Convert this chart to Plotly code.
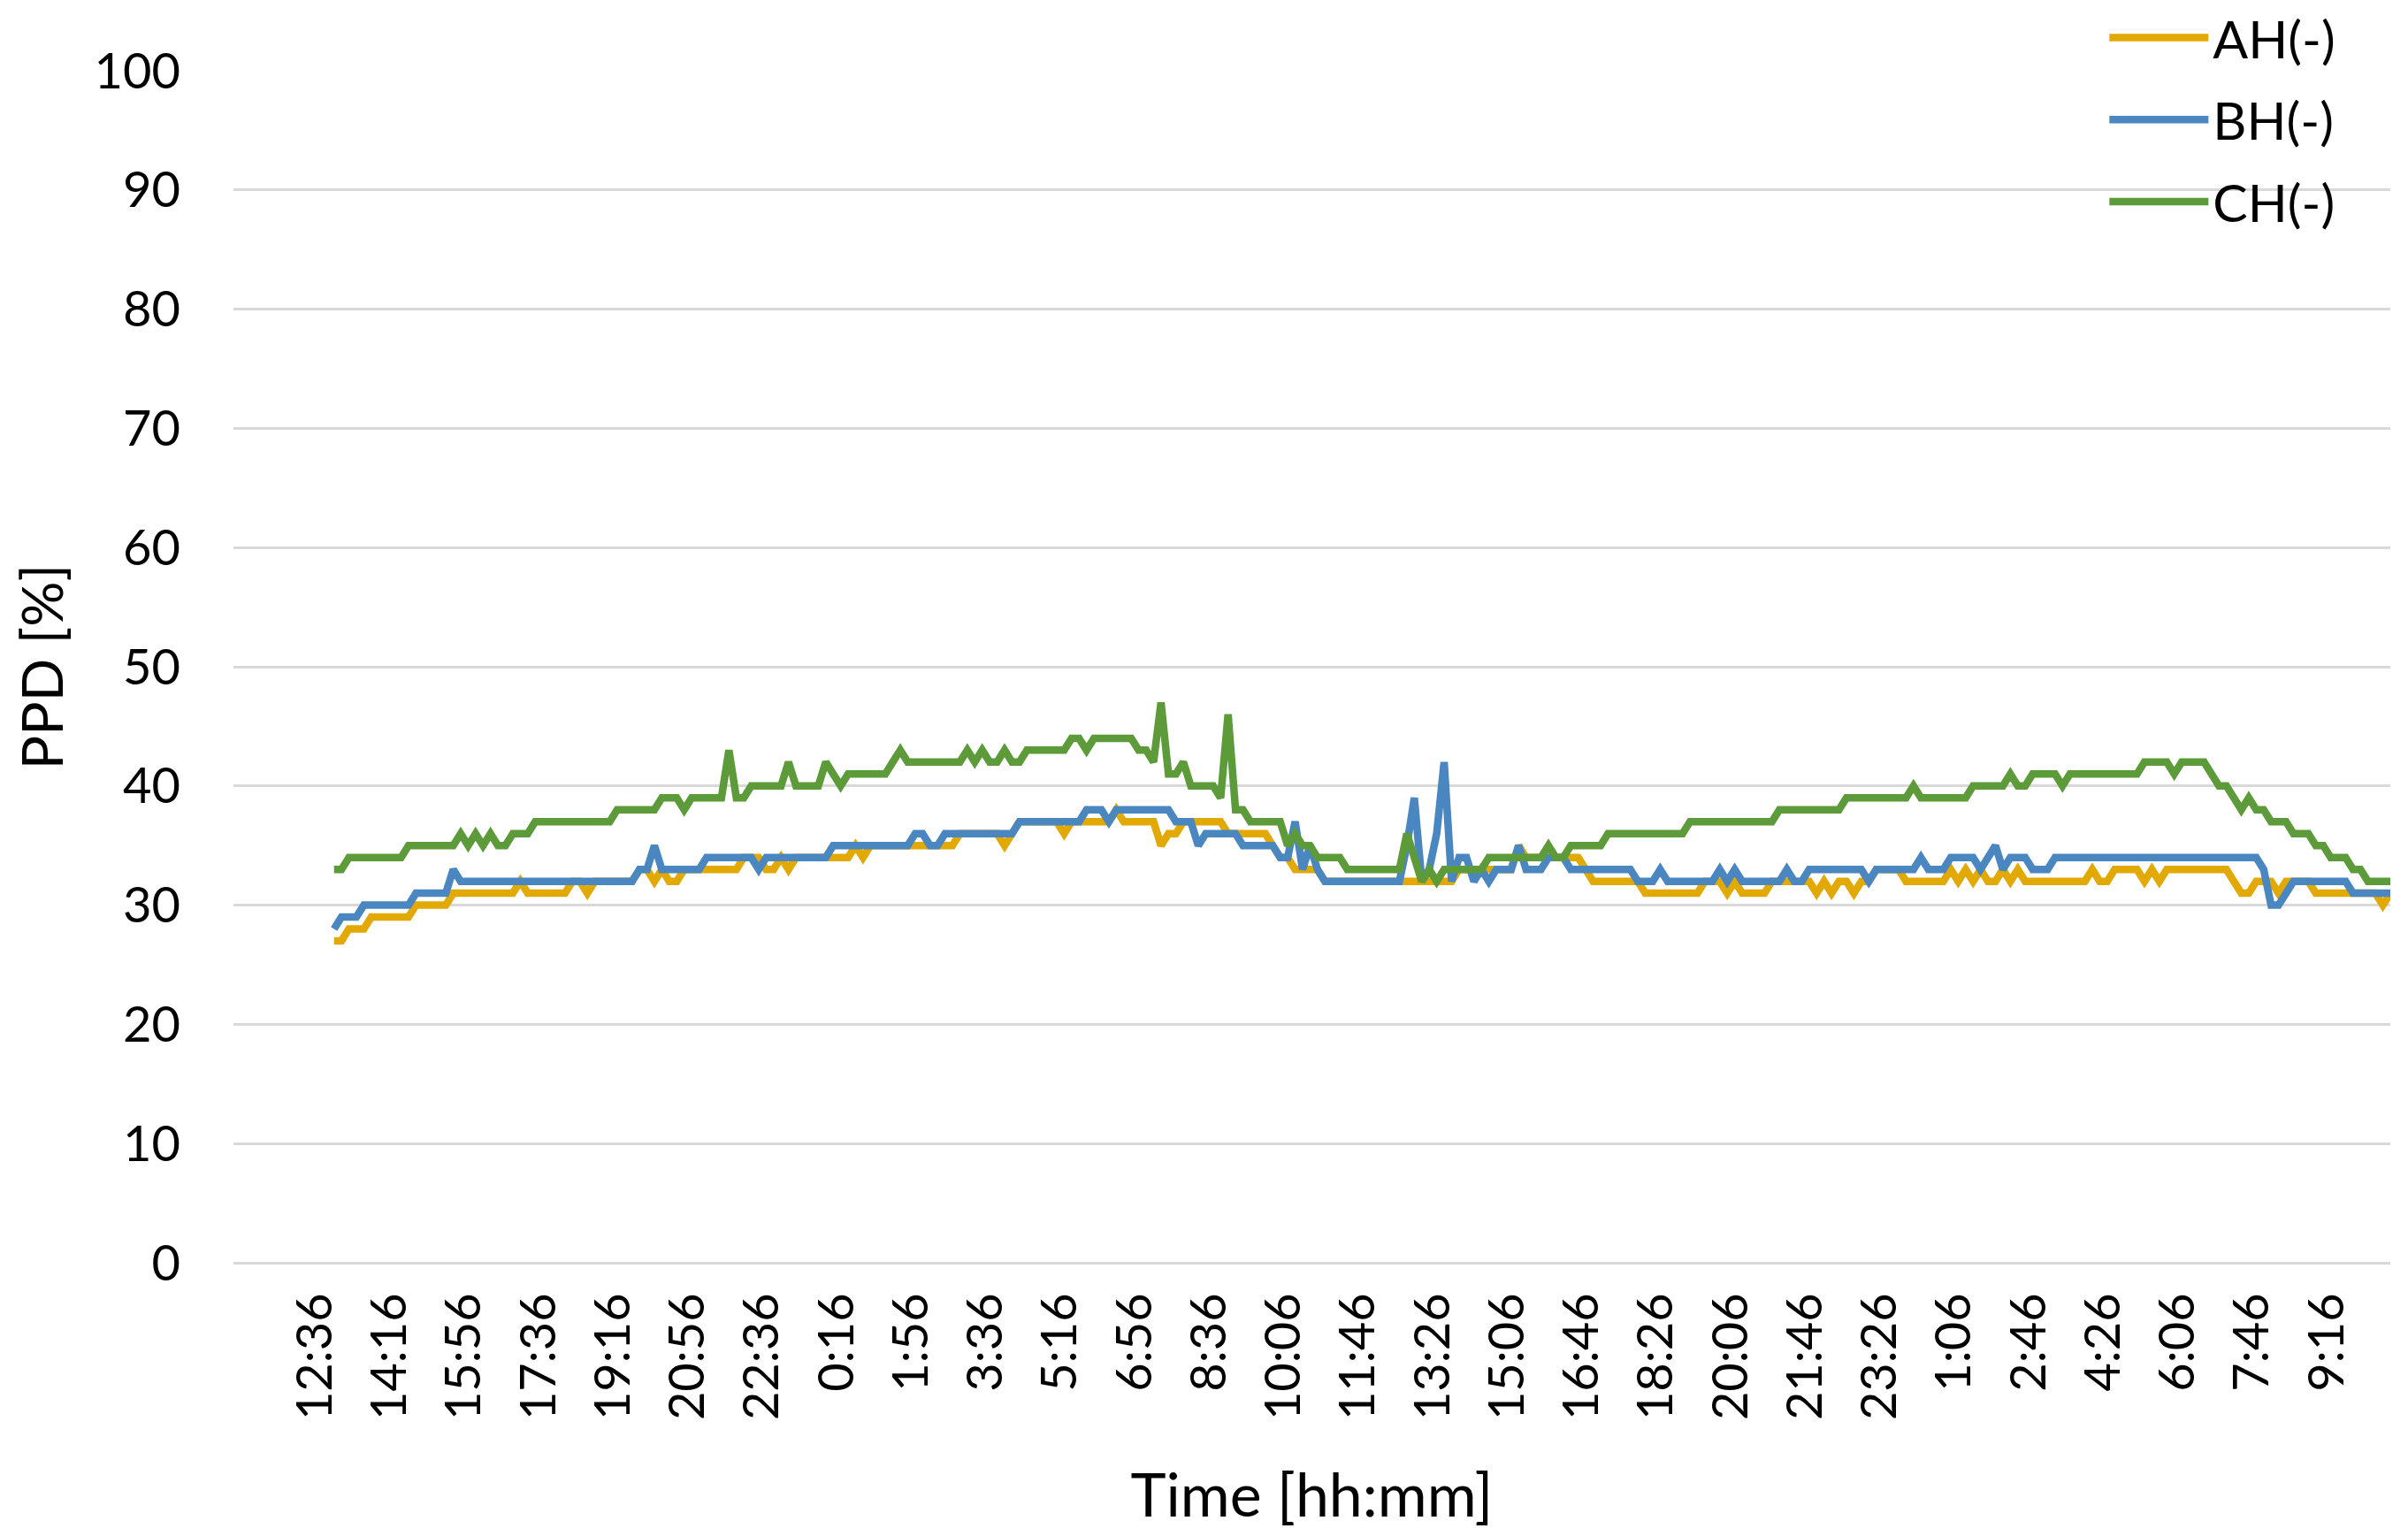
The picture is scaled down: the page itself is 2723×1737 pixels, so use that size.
import plotly.graph_objects as go

# ---- data (PPD %, one value per 10-minute sample) ----
AH = [27,27,28,28,28,29,29,29,29,29,
      29,30,30,30,30,30,31,31,31,31,
      31,31,31,31,31,32,31,31,31,31,
      31,31,32,32,31,32,32,32,32,32,
      32,33,33,32,33,32,32,33,33,33,
      33,33,33,33,33,34,34,34,33,33,
      34,33,34,34,34,34,34,34,34,34,
      35,34,35,35,35,35,35,35,35,35,
      35,35,35,35,36,36,36,36,36,36,
      35,36,37,37,37,37,37,37,36,37,
      37,37,37,37,37,38,37,37,37,37,
      37,35,36,36,37,37,37,37,37,37,
      36,36,36,36,36,36,35,34,34,33,
      33,33,33,32,32,32,32,32,32,32,
      32,32,32,32,32,32,32,32,32,32,
      32,33,33,33,33,33,33,33,33,35,
      34,34,34,34,34,34,34,34,33,32,
      32,32,32,32,32,32,31,31,31,31,
      31,31,31,31,32,32,32,31,32,31,
      31,31,31,32,32,32,32,32,32,31,
      32,31,32,32,31,32,32,33,33,33,
      33,32,32,32,32,32,32,33,32,33,
      32,33,32,32,33,32,33,32,32,32,
      32,32,32,32,32,32,33,32,32,33,
      33,33,33,32,33,32,33,33,33,33,
      33,33,33,33,33,32,31,31,32,32,
      32,31,32,32,32,32,31,31,31,31,
      31,31,31,31,31,30,31]

BH = [28,29,29,29,30,30,30,30,30,30,
      30,31,31,31,31,31,33,32,32,32,
      32,32,32,32,32,32,32,32,32,32,
      32,32,32,32,32,32,32,32,32,32,
      32,33,33,35,33,33,33,33,33,33,
      34,34,34,34,34,34,34,33,34,34,
      34,34,34,34,34,34,34,35,35,35,
      35,35,35,35,35,35,35,35,36,36,
      35,35,36,36,36,36,36,36,36,36,
      36,36,37,37,37,37,37,37,37,37,
      37,38,38,38,37,38,38,38,38,38,
      38,38,38,37,37,37,35,36,36,36,
      36,36,35,35,35,35,35,34,34,37,
      33,35,33,32,32,32,32,32,32,32,
      32,32,32,32,35,39,32,33,36,42,
      32,34,34,32,33,32,33,33,33,35,
      33,33,33,34,34,34,33,33,33,33,
      33,33,33,33,33,32,32,32,33,32,
      32,32,32,32,32,32,33,32,33,32,
      32,32,32,32,32,33,32,32,33,33,
      33,33,33,33,33,33,32,33,33,33,
      33,33,33,34,33,33,33,34,34,34,
      34,33,34,35,33,34,34,34,33,33,
      33,34,34,34,34,34,34,34,34,34,
      34,34,34,34,34,34,34,34,34,34,
      34,34,34,34,34,34,34,34,34,33,
      30,30,31,32,32,32,32,32,32,32,
      32,31,31,31,31,31,31]

CH = [33,33,34,34,34,34,34,34,34,34,
      35,35,35,35,35,35,35,36,35,36,
      35,36,35,35,36,36,36,37,37,37,
      37,37,37,37,37,37,37,37,38,38,
      38,38,38,38,39,39,39,38,39,39,
      39,39,39,43,39,39,40,40,40,40,
      40,42,40,40,40,40,42,41,40,41,
      41,41,41,41,41,42,43,42,42,42,
      42,42,42,42,42,43,42,43,42,42,
      43,42,42,43,43,43,43,43,43,44,
      44,43,44,44,44,44,44,44,43,43,
      42,47,41,41,42,40,40,40,40,39,
      46,38,38,37,37,37,37,37,35,36,
      35,35,34,34,34,34,33,33,33,33,
      33,33,33,33,36,34,32,33,32,33,
      33,33,33,33,33,34,34,34,34,34,
      34,34,34,35,34,34,35,35,35,35,
      35,36,36,36,36,36,36,36,36,36,
      36,36,37,37,37,37,37,37,37,37,
      37,37,37,37,38,38,38,38,38,38,
      38,38,38,39,39,39,39,39,39,39,
      39,39,40,39,39,39,39,39,39,39,
      40,40,40,40,40,41,40,40,41,41,
      41,41,40,41,41,41,41,41,41,41,
      41,41,41,42,42,42,42,41,42,42,
      42,42,41,40,40,39,38,39,38,38,
      37,37,37,36,36,36,35,35,34,34,
      34,33,33,32,32,32,32]

TICK_LABELS = ["12:36", "14:16", "15:56", "17:36", "19:16", "20:56", "22:36",
               "0:16", "1:56", "3:36", "5:16", "6:56", "8:36", "10:06",
               "11:46", "13:26", "15:06", "16:46", "18:26", "20:06", "21:46",
               "23:26", "1:06", "2:46", "4:26", "6:06", "7:46", "9:16"]
LABEL_STEP = 10

assert len(AH) == len(BH) == len(CH)
n = len(AH)
idx = list(range(n))
tickvals = [k * LABEL_STEP for k in range(len(TICK_LABELS))]

FONT = "Lato"
series = [("AH(-)", AH, "#E3A903"), ("BH(-)", BH, "#4A86C0"), ("CH(-)", CH, "#5C9A3A")]

fig = go.Figure()
for name, vals, col in series:
    fig.add_trace(go.Scatter(x=idx, y=vals, mode="lines", name=name,
                             legendgroup=name,
                             line=dict(color=col, width=8.5)))

# the page body adds an 8 px margin, so the figure is 8 px smaller on each axis
fig.update_layout(
    width=2715, height=1729,
    margin=dict(l=256, r=20, t=72, b=309, autoexpand=False),
    paper_bgcolor="white", plot_bgcolor="white",
    font=dict(family=FONT, size=56, color="#000000"),
    showlegend=True,
    legend=dict(x=0.8677, y=1.061, xanchor="left", yanchor="top",
                bgcolor="rgba(0,0,0,0)", font=dict(size=59),
                itemwidth=112, tracegroupgap=13, traceorder="grouped"),
    xaxis=dict(range=[-13.5, n - 1], tickmode="array", tickvals=tickvals,
               ticktext=TICK_LABELS, tickangle=-90, showgrid=False,
               zeroline=False, showline=False, ticks="",
               ticklabelstandoff=22, ticklabelshift=-21,
               title=dict(text="Time [hh:mm]", standoff=62,
                          font=dict(size=68))),
    yaxis=dict(range=[0, 100], dtick=10, tick0=0, showgrid=True,
               gridcolor="#D9D9D9", gridwidth=3, zeroline=True,
               zerolinecolor="#D9D9D9", zerolinewidth=3, showline=False,
               ticks="", ticklabelstandoff=59,
               title=dict(text="PPD [%]", standoff=36,
                          font=dict(size=64))),
)

fig.write_html("out.html")
